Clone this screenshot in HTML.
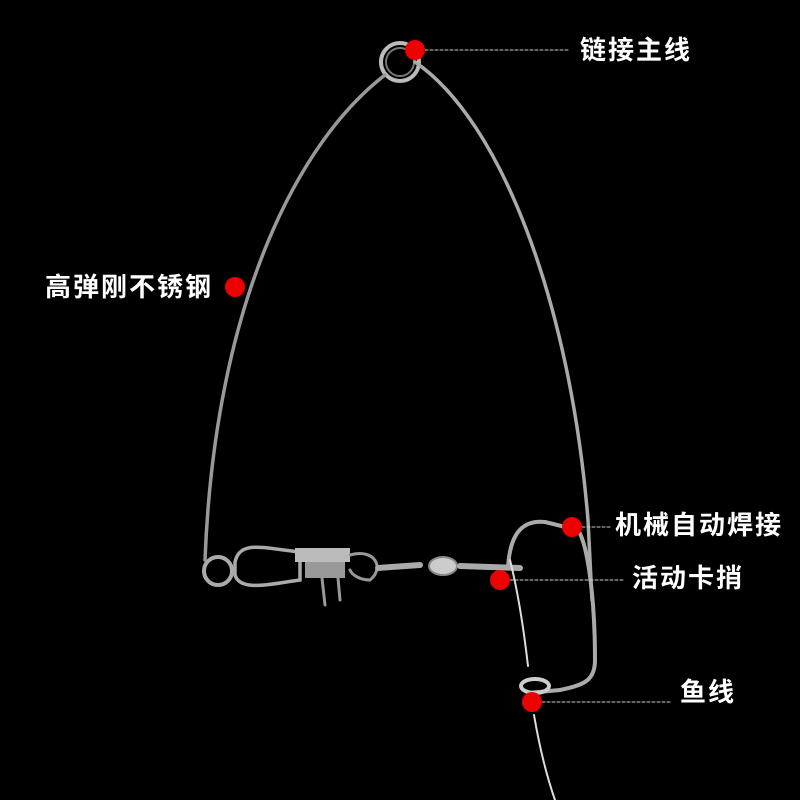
<!DOCTYPE html>
<html><head><meta charset="utf-8"><style>
html,body{margin:0;padding:0;background:#000;}
body{width:800px;height:800px;overflow:hidden;position:relative;font-family:"Liberation Sans","Noto Sans CJK SC",sans-serif;}
.l{position:absolute;color:#fff;font-size:26px;letter-spacing:2px;font-weight:bold;white-space:nowrap;line-height:1;}
</style></head><body>
<svg width="800" height="800" style="position:absolute;left:0;top:0">
<g fill="none" stroke-linecap="round">
<circle cx="400" cy="62" r="19" stroke="#bbb" stroke-width="4"/>
<circle cx="400" cy="62" r="14" stroke="#777" stroke-width="2"/>
<path d="M385 75 C300 140 215 300 205 560" stroke="#999" stroke-width="3.5"/>
<path d="M415 62 C500 120 570 300 588 520 L592 600" stroke="#aaa" stroke-width="3.5"/>
<circle cx="218" cy="571" r="14" stroke="#aaa" stroke-width="4"/>
<path d="M235 562 C240 540 262 548 300 552 L300 580 C270 584 240 592 235 575 Z" stroke="#aaa" stroke-width="3.5"/>
<rect x="295" y="548" width="55" height="14" fill="#bbb" stroke="none"/>
<rect x="305" y="562" width="40" height="16" fill="#999" stroke="none"/>
<path d="M322 578 L325 605 M338 578 L340 600" stroke="#999" stroke-width="3"/>
<path d="M350 555 C375 548 385 568 370 580 C360 580 352 575 350 570" stroke="#999" stroke-width="3"/>
<path d="M378 568 L420 565" stroke="#aaa" stroke-width="6"/>
<ellipse cx="443" cy="566" rx="14" ry="9" fill="#ccc" stroke="#888" stroke-width="2"/>
<path d="M460 566 L520 568" stroke="#aaa" stroke-width="6"/>
<path d="M508 568 C510 530 525 520 545 522 L578 530 C588 545 595 600 595 660 C595 680 585 685 560 690 L528 693" stroke="#aaa" stroke-width="4"/>
<ellipse cx="535" cy="686" rx="14" ry="7" stroke="#ccc" stroke-width="4"/>
<path d="M510 560 C520 600 525 640 528 666" stroke="#ddd" stroke-width="2"/>
<path d="M534 715 C540 750 548 780 555 800" stroke="#ddd" stroke-width="2"/>
<g stroke="#ccc" stroke-width="1" stroke-dasharray="3,2">
<line x1="425" y1="50" x2="570" y2="50"/>
<line x1="582" y1="527" x2="610" y2="527"/>
<line x1="510" y1="580" x2="625" y2="580"/>
<line x1="542" y1="702" x2="672" y2="702"/>
</g>
</g>
<g fill="#e00">
<circle cx="415" cy="50" r="10"/>
<circle cx="235" cy="287" r="10"/>
<circle cx="572" cy="527" r="10"/>
<circle cx="500" cy="580" r="10"/>
<circle cx="532" cy="702" r="10"/>
</g>
</svg>
<div class="l" style="left:580px;top:37px">链接主线</div>
<div class="l" style="left:45px;top:274px">高弹刚不锈钢</div>
<div class="l" style="left:615px;top:512px">机械自动焊接</div>
<div class="l" style="left:632px;top:565px">活动卡捎</div>
<div class="l" style="left:680px;top:679px">鱼线</div>
</body></html>
